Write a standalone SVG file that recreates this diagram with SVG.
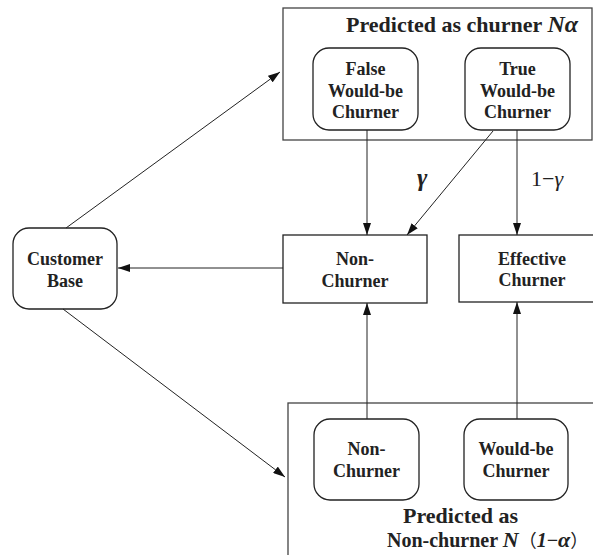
<svg xmlns="http://www.w3.org/2000/svg" width="593" height="555" viewBox="0 0 593 555">
<style>
.box{fill:#fff;stroke:#222;stroke-width:1.3}
.grp{fill:none;stroke:#444;stroke-width:1.3}
.t{font-family:"Liberation Serif","Times New Roman",serif;font-weight:bold;font-size:18px;fill:#222;text-anchor:middle}
.title{font-family:"Liberation Serif","Times New Roman",serif;font-weight:bold;font-size:22px;fill:#222}
.lab{font-family:"Liberation Serif","Times New Roman",serif;font-size:22px;fill:#222}
.cjk{font-family:"Noto Sans CJK SC",sans-serif;font-weight:normal}
.conn line{stroke:#222;stroke-width:1}
</style>
<defs>
<marker id="ah" viewBox="0 0 12 8" refX="12" refY="4" markerWidth="12" markerHeight="8" markerUnits="userSpaceOnUse" orient="auto">
<path d="M0,0 L12,4 L0,8 z" fill="#111"/>
</marker>
</defs>
<rect width="593" height="555" fill="#fff"/>

<g id="predicted-churner">
<rect class="grp" x="283" y="8" width="309" height="132"/>
<text class="title" x="346" y="32">Predicted as churner <tspan style="font-style:italic;font-size:24px">Nα</tspan></text>
</g>
<g id="predicted-nonchurner">
<rect class="grp" x="288" y="403" width="320" height="170"/>
<text class="title" x="403" y="523">Predicted as</text>
<text class="title" x="387" y="547" style="font-size:20px">Non-churner <tspan style="font-style:italic;font-size:22px">N</tspan><tspan class="cjk" style="font-size:18px">（</tspan><tspan style="font-style:italic">1</tspan><tspan>−</tspan><tspan style="font-style:italic;font-size:22px">α</tspan><tspan class="cjk" style="font-size:18px">）</tspan></text>
</g>

<g id="false-would-be-churner">
<rect class="box" x="313" y="48" width="105" height="82" rx="16"/>
<text class="t" x="365.5" y="75">False</text>
<text class="t" x="365.5" y="97">Would-be</text>
<text class="t" x="365.5" y="118">Churner</text>
</g>
<g id="true-would-be-churner">
<rect class="box" x="465" y="48" width="105" height="82" rx="16"/>
<text class="t" x="517.5" y="75">True</text>
<text class="t" x="517.5" y="97">Would-be</text>
<text class="t" x="517.5" y="118">Churner</text>
</g>
<g id="customer-base">
<rect class="box" x="13" y="228" width="104" height="81" rx="16"/>
<text class="t" x="65" y="265">Customer</text>
<text class="t" x="65" y="287">Base</text>
</g>
<g id="non-churner">
<rect class="box" x="283" y="235" width="144" height="68"/>
<text class="t" x="355" y="265">Non-</text>
<text class="t" x="355" y="287">Churner</text>
</g>
<g id="effective-churner">
<rect class="box" x="459" y="235" width="150" height="67"/>
<text class="t" x="532" y="265">Effective</text>
<text class="t" x="532" y="286">Churner</text>
</g>
<g id="bottom-non-churner">
<rect class="box" x="314" y="419" width="105" height="81" rx="16"/>
<text class="t" x="366.5" y="455">Non-</text>
<text class="t" x="366.5" y="477">Churner</text>
</g>
<g id="would-be-churner">
<rect class="box" x="464" y="419" width="104" height="81" rx="16"/>
<text class="t" x="516" y="455">Would-be</text>
<text class="t" x="516" y="477">Churner</text>
</g>

<g id="connectors" class="conn">
<line x1="66" y1="228" x2="280" y2="72" marker-end="url(#ah)"/>
<line x1="63" y1="309" x2="285" y2="477" marker-end="url(#ah)"/>
<line x1="283" y1="268" x2="118" y2="268" marker-end="url(#ah)"/>
<line x1="367" y1="130" x2="367" y2="235" marker-end="url(#ah)"/>
<line x1="493" y1="131" x2="407" y2="235" marker-end="url(#ah)"/>
<line x1="517" y1="130" x2="517" y2="235" marker-end="url(#ah)"/>
<line x1="367" y1="419" x2="367" y2="303" marker-end="url(#ah)"/>
<line x1="517" y1="419" x2="517" y2="302" marker-end="url(#ah)"/>
</g>
<text class="lab" x="417" y="186" style="font-size:25px;font-weight:bold;font-style:italic">γ</text>
<text class="lab" x="531" y="186">1−<tspan style="font-style:italic">γ</tspan></text>
</svg>
